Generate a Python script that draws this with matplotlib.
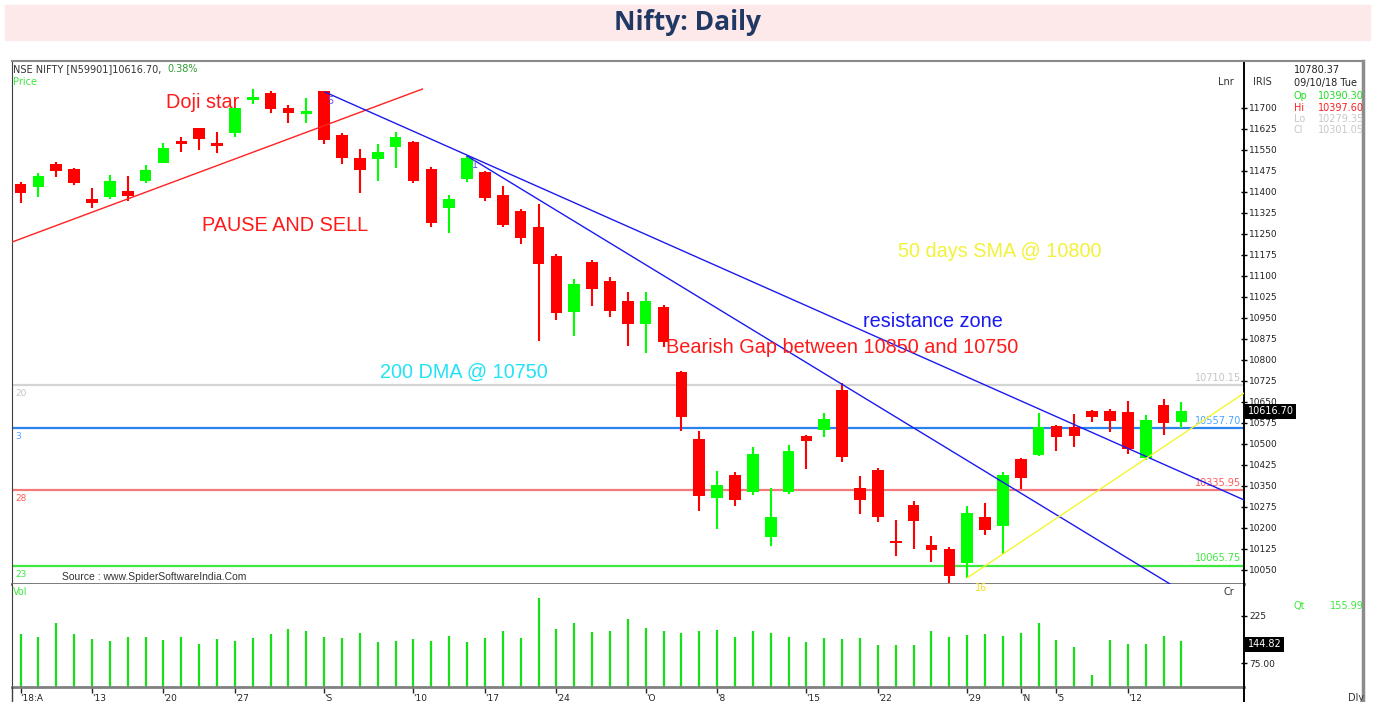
import numpy as np
import matplotlib.pyplot as plt
from matplotlib.patches import Rectangle
from matplotlib.lines import Line2D

# daily candles, 7 Aug 2018 .. 15 Nov 2018
opens = [11427, 11415, 11498, 11481, 11375, 11382, 11402, 11439, 11503, 11582,
         11626, 11574, 11610, 11728, 11751, 11697, 11678, 11759, 11602, 11520,
         11517, 11560, 11577, 11480, 11343, 11445, 11470, 11387, 11331, 11274,
         11170, 10971, 11149, 11081, 11011, 10929, 10988, 10756, 10517, 10308,
         10390, 10329, 10169, 10329, 10528, 10551, 10692, 10343, 10407, 10154,
         10282, 10139, 10125, 10076, 10240, 10208, 10446, 10460, 10564, 10559,
         10617, 10617, 10614, 10451, 10639, 10579]
highs = [11435, 11465, 11504, 11484, 11414, 11459, 11457, 11494, 11572, 11594,
         11626, 11613, 11702, 11765, 11759, 11709, 11733, 11759, 11608, 11551,
         11569, 11613, 11580, 11487, 11388, 11527, 11475, 11420, 11339, 11355,
         11177, 11088, 11155, 11095, 11042, 11042, 10995, 10760, 10546, 10403,
         10398, 10488, 10341, 10496, 10532, 10611, 10716, 10385, 10414, 10228,
         10296, 10171, 10133, 10278, 10290, 10401, 10450, 10611, 10566, 10605,
         10621, 10624, 10653, 10603, 10659, 10650]
lows = [11360, 11382, 11453, 11422, 11343, 11375, 11367, 11432, 11501, 11542,
        11548, 11537, 11596, 11712, 11681, 11644, 11644, 11570, 11497, 11396,
        11439, 11485, 11430, 11275, 11253, 11433, 11367, 11273, 11213, 10867,
        10943, 10885, 10993, 10952, 10850, 10823, 10847, 10547, 10262, 10197,
        10279, 10317, 10137, 10321, 10409, 10526, 10434, 10250, 10222, 10101,
        10125, 10078, 10003, 10022, 10176, 10107, 10339, 10458, 10476, 10490,
        10579, 10543, 10463, 10442, 10532, 10556]
closes = [11394, 11456, 11475, 11432, 11358, 11438, 11385, 11477, 11556, 11571,
          11587, 11563, 11698, 11738, 11694, 11679, 11686, 11584, 11521, 11478,
          11541, 11594, 11439, 11289, 11374, 11519, 11378, 11281, 11236, 11143,
          10968, 11070, 11054, 10975, 10929, 11011, 10862, 10597, 10315, 10353,
          10301, 10464, 10239, 10475, 10511, 10589, 10454, 10301, 10240, 10146,
          10226, 10121, 10030, 10253, 10194, 10389, 10379, 10559, 10526, 10529,
          10597, 10583, 10483, 10585, 10575, 10616.70]
volumes = [168, 159, 204, 168, 152, 146, 159, 159, 149, 159,
           137, 151, 146, 154, 168, 184, 178, 159, 156, 171,
           144, 147, 151, 147, 162, 144, 154, 176, 156, 281,
           182, 204, 174, 178, 215, 187, 176, 171, 178, 181,
           159, 176, 171, 157, 143, 154, 151, 154, 132, 132,
           132, 178, 157, 165, 168, 162, 171, 201, 149, 127,
           38, 149, 135, 135, 162, 145]

tick_pos = [0, 4, 8, 12, 17, 22, 26, 30, 35, 39, 44, 48, 53, 56, 58, 62]
tick_labels = ["'18:A", "'13", "'20", "'27", "'S", "'10", "'17", "'24", "'O",
               "'8", "'15", "'22", "'29", "'N", "'5", "'12"]

levels = [10710.15, 10557.70, 10335.95, 10065.75]
level_tags = ['20', '3', '28', '23']
level_colors = ['#d4d4d4', '#2a82ee', '#f47a7a', '#3ee83e']
level_text_colors = ['#c4c4c4', '#4aa6ff', '#ff5a5a', '#3ee83e']

red_trend_x, red_trend_y = [-0.48, 22.5], [11220, 11766]
blue1_x, blue1_y = [17.05, 68.5], [11755, 10300]
blue2_x, blue2_y = [25.0, 64.36], [11527, 10000]
yellow_x, yellow_y = [53.0, 68.5], [10022, 10681]

plt.rcParams['font.family'] = 'DejaVu Sans'

W, H = 1375, 702
def fx(px):
    return px / W
def fy(py):
    return 1 - py / H

fig = plt.figure(figsize=(13.75, 7.02), dpi=100)
fig.patches.append(Rectangle((fx(5), fy(40)), fx(1370) - fx(5), fy(5) - fy(40),
                             transform=fig.transFigure, color='#fde9ea', zorder=0))
fig.text(0.5, fy(23), 'Nifty: Daily', ha='center', va='center', fontsize=19,
         fontweight='bold', color='#1f3864', family='Open Sans')

ax = fig.add_axes([fx(12), fy(584), fx(1244) - fx(12), fy(61) - fy(584)])
av = fig.add_axes([fx(12), fy(687), fx(1244) - fx(12), fy(584) - fy(687)])

x = np.arange(len(closes))
o = np.array(opens)
c = np.array(closes)
col = np.where(c >= o, '#00ff00', '#ff0000')
ax.vlines(x, lows, highs, colors=col, linewidth=1.5, zorder=3)
ax.bar(x, np.abs(c - o), bottom=np.minimum(o, c), width=0.65, color=col, zorder=4)

for lev, tag, lc, tc in zip(levels, level_tags, level_colors, level_text_colors):
    ax.axhline(lev, color=lc, lw=1.6, zorder=2)
    ax.annotate(f'{lev:.2f}', xy=(0.998, lev), xycoords=ax.get_yaxis_transform(),
                xytext=(0, 1.5), textcoords='offset points', ha='right', va='bottom',
                fontsize=7, color=tc)
    ax.annotate(tag, xy=(0.003, lev), xycoords=ax.get_yaxis_transform(),
                xytext=(0, -3), textcoords='offset points', ha='left', va='top',
                fontsize=6.5, color=tc)

ax.plot(red_trend_x, red_trend_y, color='#ff2020', lw=1, zorder=5)
ax.plot(blue1_x, blue1_y, color='#1a1aee', lw=1, zorder=5)
ax.plot(blue2_x, blue2_y, color='#1a1aee', lw=1, zorder=5)
ax.plot(yellow_x, yellow_y, color='#f5f530', lw=1, zorder=5)

ax.set_xlim(-0.48, 68.5)
ax.set_ylim(10000, 11866)
ax.yaxis.tick_right()
ax.set_yticks(np.arange(10050, 11701, 75))
ax.tick_params(axis='y', direction='inout', length=5, width=1, labelsize=6.5,
               pad=1, color='black', labelcolor='#222222')
ax.set_xticks([])
ax.spines['top'].set_color('#8a8a8a')
ax.spines['top'].set_linewidth(1.5)
ax.spines['left'].set_color('#404040')
ax.spines['right'].set_linewidth(1.4)
ax.spines['bottom'].set_color('#707070')
ax.spines['bottom'].set_linewidth(2)

ax.text(1.003, closes[-1], f'{closes[-1]:.2f}', transform=ax.get_yaxis_transform(),
        ha='left', va='center', fontsize=7, color='white', clip_on=False, zorder=10,
        bbox=dict(boxstyle='square,pad=0.25', fc='black', ec='none'))

av.vlines(x, 0, volumes, colors='#16e016', linewidth=1.6)
av.set_xlim(-0.48, 68.5)
av.set_ylim(0, 326)
av.yaxis.tick_right()
av.set_yticks([75, 225], ['75.00', '225'])
av.tick_params(axis='y', direction='inout', length=5, width=1, labelsize=6.5,
               pad=1, labelcolor='#222222')
av.set_xticks(tick_pos, tick_labels)
av.tick_params(axis='x', direction='out', length=4, width=1, labelsize=6.5, pad=1,
               color='#222222', labelcolor='#222222')
plt.setp(av.get_xticklabels(), ha='left')
av.spines['top'].set_visible(False)
av.spines['left'].set_color('#404040')
av.spines['right'].set_linewidth(1.4)
av.spines['bottom'].set_color('#808080')
av.spines['bottom'].set_linewidth(2)
av.text(1.003, 135, '144.82', transform=av.get_yaxis_transform(),
        ha='left', va='center', fontsize=7, color='white', clip_on=False, zorder=10,
        bbox=dict(boxstyle='square,pad=0.25', fc='black', ec='none'))

fig.add_artist(Line2D([fx(12), fx(12)], [fy(687), fy(702)], color='#404040', lw=1))
fig.add_artist(Line2D([fx(1244), fx(1244)], [fy(687), fy(702)], color='black', lw=1.4))
fig.add_artist(Line2D([fx(1244), fx(1363)], [fy(61), fy(61)], color='#8a8a8a', lw=1.5))

# header and side panel text
fig.text(fx(13), fy(69), 'NSE NIFTY [N59901]10616.70,', fontsize=7, color='#333333', va='center')
fig.text(fx(167), fy(69), '0.38%', fontsize=7, color='#2e9b2e', va='center')
fig.text(fx(13), fy(82), 'Price', fontsize=7, color='#3ee83e', va='center')
fig.text(fx(13), fy(592), 'Vol', fontsize=7, color='#3ee83e', va='center')
fig.text(fx(1218), fy(82), 'Lnr', fontsize=7, color='#333333', va='center')
fig.text(fx(1253), fy(82), 'IRIS', fontsize=7, color='#333333', va='center')
fig.text(fx(1223), fy(592), 'Cr', fontsize=7, color='#333333', va='center')
fig.text(fx(1294), fy(70), '10780.37', fontsize=7, color='#222222', va='center')
fig.text(fx(1294), fy(83), '09/10/18 Tue', fontsize=7, color='#222222', va='center')
panel = [('Op', '10390.30', '#22dd22', 96), ('Hi', '10397.60', '#ff2020', 108),
         ('Lo', '10279.35', '#c8c8c8', 119), ('Cl', '10301.05', '#c8c8c8', 130)]
for k, v, pc, py in panel:
    fig.text(fx(1294), fy(py), k, fontsize=7, color=pc, va='center')
    fig.text(fx(1318), fy(py), v, fontsize=7, color=pc, va='center')
fig.text(fx(1293), fy(606), 'Qt', fontsize=7, color='#3ee83e', va='center')
fig.text(fx(1330), fy(606), '155.99', fontsize=7, color='#3ee83e', va='center')
fig.text(fx(1348), fy(698), 'Dly', fontsize=7, color='#333333', va='center')
fig.add_artist(Line2D([fx(1363), fx(1363)], [fy(61), fy(702)], color='#8c8c8c', lw=2.5))

fig.text(fx(62), fy(577), 'Source : www.SpiderSoftwareIndia.Com', fontsize=7.5,
         color='#333333', va='center', family='Liberation Sans')
fig.text(fx(327), fy(101), '5', fontsize=7, color='#6a4be0', va='center')
fig.text(fx(472), fy(165), '1', fontsize=7, color='#6a4be0', va='center')
fig.text(fx(975), fy(588), '16', fontsize=7, color='#eedd22', va='center')

notes = [('Doji star', '#ff1a1a', 166, 108), ('PAUSE AND SELL', '#ff1a1a', 202, 231),
         ('50 days SMA @ 10800', '#f2f23a', 898, 257), ('resistance zone', '#1a1aee', 863, 327),
         ('Bearish Gap between 10850 and 10750', '#ff1a1a', 666, 353),
         ('200 DMA @ 10750', '#22e2f5', 380, 378)]
for t, tc, px, py in notes:
    fig.text(fx(px), fy(py), t, fontsize=14.3, color=tc, va='baseline',
             family='Liberation Sans', zorder=6)

fig.savefig('out.png', dpi=100)
